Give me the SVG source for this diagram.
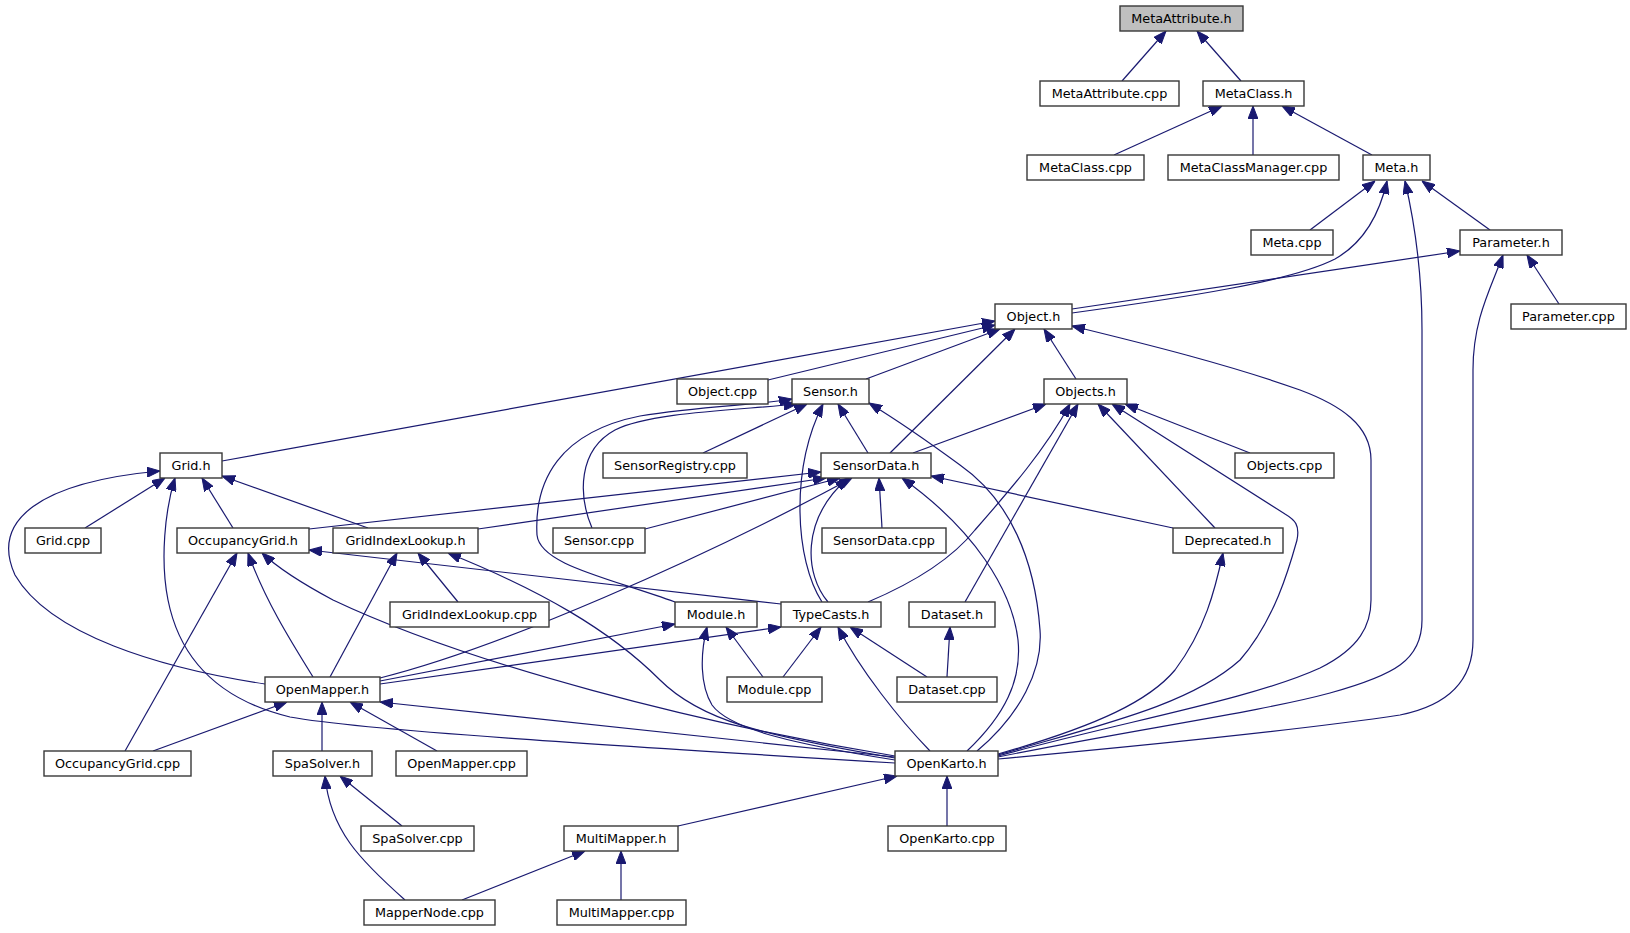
<svg xmlns="http://www.w3.org/2000/svg" width="1630" height="933" viewBox="0 0 1630 933">
<style>
.n rect{fill:#fff;stroke:#383838;stroke-width:1.4}
.n.g rect{fill:#bfbfbf}
.n text{font-family:"DejaVu Sans",sans-serif;font-size:12.8px;text-anchor:middle;fill:#000}
.e path{fill:none;stroke:#191970;stroke-width:1.2;marker-end:url(#a)}
</style>
<defs>
<marker id="a" markerUnits="userSpaceOnUse" markerWidth="13" markerHeight="10" viewBox="0 0 13 10" refX="13" refY="5" orient="auto">
<path d="M0,0 L13,5 L0,10 z" fill="#191970" stroke="#191970" stroke-width="1"/>
</marker>
</defs>
<rect width="1630" height="933" fill="#fff"/>
<g id="edges" class="e">
<path d="M1122,81 L1166,31"/>
<path d="M1241,81 L1197,31"/>
<path d="M1114,155 L1222,106"/>
<path d="M1253,155 L1253,106"/>
<path d="M1372,155 L1282,106"/>
<path d="M1310,230 L1375,181"/>
<path d="M1490,230 L1422,181"/>
<path d="M1072,313 C1180,298 1290,282 1335,259 C1365,242 1380,212 1387,181"/>
<path d="M998,757 C1130,730 1260,712 1330,693 C1395,675 1422,660 1422,620 L1422,330 C1422,270 1414,220 1405,181"/>
<path d="M1072,309 L1460,251"/>
<path d="M1559,304 L1527,255"/>
<path d="M998,759 C1150,745 1300,730 1400,715 C1450,705 1473,680 1473,640 L1473,370 C1473,320 1490,290 1503,255"/>
<path d="M222,461 L995,321"/>
<path d="M768,380 L995,325"/>
<path d="M866,379 L1000,329"/>
<path d="M890,453 L1015,329"/>
<path d="M1076,379 L1044,329"/>
<path d="M998,756 C1120,722 1250,700 1320,668 C1360,648 1371,625 1371,600 L1371,460 C1371,425 1340,405 1300,390 C1230,365 1150,345 1072,326"/>
<path d="M592,528 C578,495 578,450 615,430 C650,412 740,410 797,404"/>
<path d="M675,602 C610,578 540,565 537,535 C534,480 560,432 640,416 C700,406 760,405 792,399"/>
<path d="M703,453 L807,404"/>
<path d="M822,602 C795,560 790,470 823,404"/>
<path d="M868,453 L838,404"/>
<path d="M977,751 C1020,715 1043,670 1040,630 C1035,560 1010,500 960,465 C930,443 900,422 869,403"/>
<path d="M913,453 L1046,404"/>
<path d="M868,602 C920,580 955,555 975,530 C1010,490 1045,450 1070,404"/>
<path d="M965,602 L1078,404"/>
<path d="M1215,528 L1098,404"/>
<path d="M998,755 C1100,725 1190,705 1240,660 C1275,620 1290,565 1297,540 C1300,525 1295,520 1285,514 L1112,404"/>
<path d="M1250,453 L1125,404"/>
<path d="M85,528 L165,478"/>
<path d="M233,528 L202,478"/>
<path d="M368,528 L222,476"/>
<path d="M265,684 C160,668 50,635 15,575 C-10,520 40,482 160,471"/>
<path d="M895,763 C600,745 360,730 290,717 C220,700 180,660 168,600 C160,560 165,510 175,478"/>
<path d="M309,529 L821,472"/>
<path d="M478,529 L826,478"/>
<path d="M645,529 L840,478"/>
<path d="M380,678 C500,648 700,560 852,478"/>
<path d="M828,602 C805,575 800,520 848,478"/>
<path d="M882,528 L879,478"/>
<path d="M1173,528 L931,476"/>
<path d="M967,751 C1005,715 1022,680 1018,640 C1012,590 975,530 902,478"/>
<path d="M125,751 L237,553"/>
<path d="M313,677 C290,640 265,600 248,553"/>
<path d="M895,756 C700,724 470,665 333,600 C305,585 280,570 262,553"/>
<path d="M781,604 L309,550"/>
<path d="M330,677 L397,553"/>
<path d="M458,602 L418,553"/>
<path d="M895,758 C760,735 700,720 660,680 C610,630 540,590 448,553"/>
<path d="M998,754 C1100,725 1150,700 1175,670 C1205,630 1215,590 1223,553"/>
<path d="M947,677 L950,627"/>
<path d="M380,681 L675,624"/>
<path d="M763,677 L726,627"/>
<path d="M895,760 C800,745 730,730 712,705 C700,685 700,655 707,627"/>
<path d="M380,684 L781,627"/>
<path d="M783,677 L821,627"/>
<path d="M927,677 L850,627"/>
<path d="M930,751 C900,720 860,670 838,627"/>
<path d="M153,751 L287,702"/>
<path d="M322,751 L322,702"/>
<path d="M437,751 L350,702"/>
<path d="M895,757 L380,702"/>
<path d="M678,826 L897,776"/>
<path d="M947,826 L947,776"/>
<path d="M402,826 L340,776"/>
<path d="M405,900 C360,860 330,830 325,776"/>
<path d="M462,900 L585,851"/>
<path d="M621,900 L621,851"/>
</g>
<g id="n1" class="n g"><rect x="1120" y="6" width="123" height="25"/><text x="1181.5" y="23">MetaAttribute.h</text></g>
<g id="n2" class="n"><rect x="1040" y="81" width="139" height="25"/><text x="1109.5" y="98">MetaAttribute.cpp</text></g>
<g id="n3" class="n"><rect x="1203" y="81" width="101" height="25"/><text x="1253.5" y="98">MetaClass.h</text></g>
<g id="n4" class="n"><rect x="1027" y="155" width="117" height="25"/><text x="1085.5" y="172">MetaClass.cpp</text></g>
<g id="n5" class="n"><rect x="1168" y="155" width="171" height="25"/><text x="1253.5" y="172">MetaClassManager.cpp</text></g>
<g id="n6" class="n"><rect x="1363" y="155" width="67" height="25"/><text x="1396.5" y="172">Meta.h</text></g>
<g id="n7" class="n"><rect x="1251" y="230" width="82" height="25"/><text x="1292" y="247">Meta.cpp</text></g>
<g id="n8" class="n"><rect x="1460" y="230" width="102" height="25"/><text x="1511" y="247">Parameter.h</text></g>
<g id="n9" class="n"><rect x="995" y="304" width="77" height="25"/><text x="1033.5" y="321">Object.h</text></g>
<g id="n10" class="n"><rect x="1511" y="304" width="115" height="25"/><text x="1568.5" y="321">Parameter.cpp</text></g>
<g id="n11" class="n"><rect x="677" y="379" width="91" height="25"/><text x="722.5" y="396">Object.cpp</text></g>
<g id="n12" class="n"><rect x="792" y="379" width="77" height="25"/><text x="830.5" y="396">Sensor.h</text></g>
<g id="n13" class="n"><rect x="1044" y="379" width="83" height="25"/><text x="1085.5" y="396">Objects.h</text></g>
<g id="n14" class="n"><rect x="160" y="453" width="62" height="25"/><text x="191" y="470">Grid.h</text></g>
<g id="n15" class="n"><rect x="603" y="453" width="144" height="25"/><text x="675" y="470">SensorRegistry.cpp</text></g>
<g id="n16" class="n"><rect x="821" y="453" width="110" height="25"/><text x="876" y="470">SensorData.h</text></g>
<g id="n17" class="n"><rect x="1235" y="453" width="99" height="25"/><text x="1284.5" y="470">Objects.cpp</text></g>
<g id="n18" class="n"><rect x="25" y="528" width="76" height="25"/><text x="63" y="545">Grid.cpp</text></g>
<g id="n19" class="n"><rect x="177" y="528" width="132" height="25"/><text x="243" y="545">OccupancyGrid.h</text></g>
<g id="n20" class="n"><rect x="333" y="528" width="145" height="25"/><text x="405.5" y="545">GridIndexLookup.h</text></g>
<g id="n21" class="n"><rect x="553" y="528" width="92" height="25"/><text x="599" y="545">Sensor.cpp</text></g>
<g id="n22" class="n"><rect x="822" y="528" width="124" height="25"/><text x="884" y="545">SensorData.cpp</text></g>
<g id="n23" class="n"><rect x="1173" y="528" width="110" height="25"/><text x="1228" y="545">Deprecated.h</text></g>
<g id="n24" class="n"><rect x="390" y="602" width="159" height="25"/><text x="469.5" y="619">GridIndexLookup.cpp</text></g>
<g id="n25" class="n"><rect x="675" y="602" width="82" height="25"/><text x="716" y="619">Module.h</text></g>
<g id="n26" class="n"><rect x="781" y="602" width="100" height="25"/><text x="831" y="619">TypeCasts.h</text></g>
<g id="n27" class="n"><rect x="909" y="602" width="86" height="25"/><text x="952" y="619">Dataset.h</text></g>
<g id="n28" class="n"><rect x="265" y="677" width="115" height="25"/><text x="322.5" y="694">OpenMapper.h</text></g>
<g id="n29" class="n"><rect x="727" y="677" width="95" height="25"/><text x="774.5" y="694">Module.cpp</text></g>
<g id="n30" class="n"><rect x="897" y="677" width="100" height="25"/><text x="947" y="694">Dataset.cpp</text></g>
<g id="n31" class="n"><rect x="44" y="751" width="147" height="25"/><text x="117.5" y="768">OccupancyGrid.cpp</text></g>
<g id="n32" class="n"><rect x="273" y="751" width="99" height="25"/><text x="322.5" y="768">SpaSolver.h</text></g>
<g id="n33" class="n"><rect x="396" y="751" width="131" height="25"/><text x="461.5" y="768">OpenMapper.cpp</text></g>
<g id="n34" class="n"><rect x="895" y="751" width="103" height="25"/><text x="946.5" y="768">OpenKarto.h</text></g>
<g id="n35" class="n"><rect x="361" y="826" width="113" height="25"/><text x="417.5" y="843">SpaSolver.cpp</text></g>
<g id="n36" class="n"><rect x="564" y="826" width="114" height="25"/><text x="621" y="843">MultiMapper.h</text></g>
<g id="n37" class="n"><rect x="888" y="826" width="118" height="25"/><text x="947" y="843">OpenKarto.cpp</text></g>
<g id="n38" class="n"><rect x="364" y="900" width="131" height="25"/><text x="429.5" y="917">MapperNode.cpp</text></g>
<g id="n39" class="n"><rect x="557" y="900" width="129" height="25"/><text x="621.5" y="917">MultiMapper.cpp</text></g>
</svg>
